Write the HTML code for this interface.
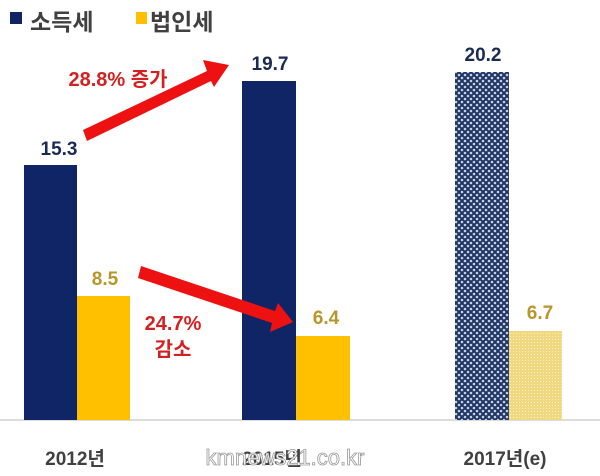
<!DOCTYPE html>
<html><head><meta charset="utf-8"><style>
body{margin:0;background:#fff;}
svg{display:block;font-family:"Liberation Sans","Noto Sans CJK KR",sans-serif;font-weight:bold;}
</style></head><body>
<svg width="600" height="476" viewBox="0 0 600 476">
<defs>
<pattern id="dots" width="6" height="6" patternUnits="userSpaceOnUse">
<rect width="6" height="6" fill="#1f3564"/>
<circle cx="0" cy="0" r="1.3" fill="#c8d0e0"/><circle cx="6" cy="0" r="1.3" fill="#c8d0e0"/><circle cx="0" cy="6" r="1.3" fill="#c8d0e0"/><circle cx="6" cy="6" r="1.3" fill="#c8d0e0"/><circle cx="3" cy="3" r="1.3" fill="#c8d0e0"/>
</pattern>
<pattern id="ydots" width="3" height="3" patternUnits="userSpaceOnUse">
<rect width="3" height="3" fill="#f0d880"/><rect width="1" height="1" fill="#fbf2c8"/>
</pattern>
</defs>
<rect x="10" y="12" width="12" height="12" fill="#0f2566"/>
<text x="30" y="30" font-size="23" fill="#404040" font-weight="bold">소득세</text>
<rect x="136" y="12" width="11" height="12" fill="#ffc000"/>
<text x="150" y="30" font-size="23" fill="#404040" font-weight="bold">법인세</text>

<line x1="0" y1="420" x2="600" y2="420" stroke="#d0d0d0" stroke-width="1.5"/>

<rect x="24" y="165" width="53" height="255" fill="#0f2566"/>
<rect x="77" y="296" width="53" height="124" fill="#ffc000"/>
<rect x="242" y="81" width="54" height="339" fill="#0f2566"/>
<rect x="296" y="336" width="54" height="84" fill="#ffc000"/>
<rect x="455" y="72" width="54" height="348" fill="url(#dots)"/>
<rect x="509" y="331" width="53" height="89" fill="url(#ydots)"/>

<g font-size="19" fill="#1a2a55" text-anchor="middle">
<text x="59" y="155">15.3</text>
<text x="270" y="70">19.7</text>
<text x="483" y="61">20.2</text>
</g>
<g font-size="19" fill="#b8962a" text-anchor="middle">
<text x="105" y="285">8.5</text>
<text x="326" y="324">6.4</text>
<text x="540" y="319">6.7</text>
</g>
<g fill="#ee1111">
<polygon points="83,130 207,71 203,60 229,65 214,87 211,81 87,141"/>
<polygon points="141,266 275,311 278,303 293,322 270,332 272,323 138,278"/>
</g>
<g font-size="20" fill="#d42020" text-anchor="middle">
<text x="118" y="86">28.8% 증가</text>
<text x="173" y="330">24.7%</text>
<text x="173" y="356">감소</text>
</g>
<g font-size="19" fill="#404040" text-anchor="middle">
<text x="75" y="465">2012년</text>
<text x="272" y="465">2015년</text>
<text x="505" y="465">2017년(e)</text>
</g>
<text x="285" y="465" font-size="22" fill="#ffffff" stroke="#999" stroke-width="0.8" font-weight="normal" text-anchor="middle">kmnews21.co.kr</text>
</svg>
</body></html>
